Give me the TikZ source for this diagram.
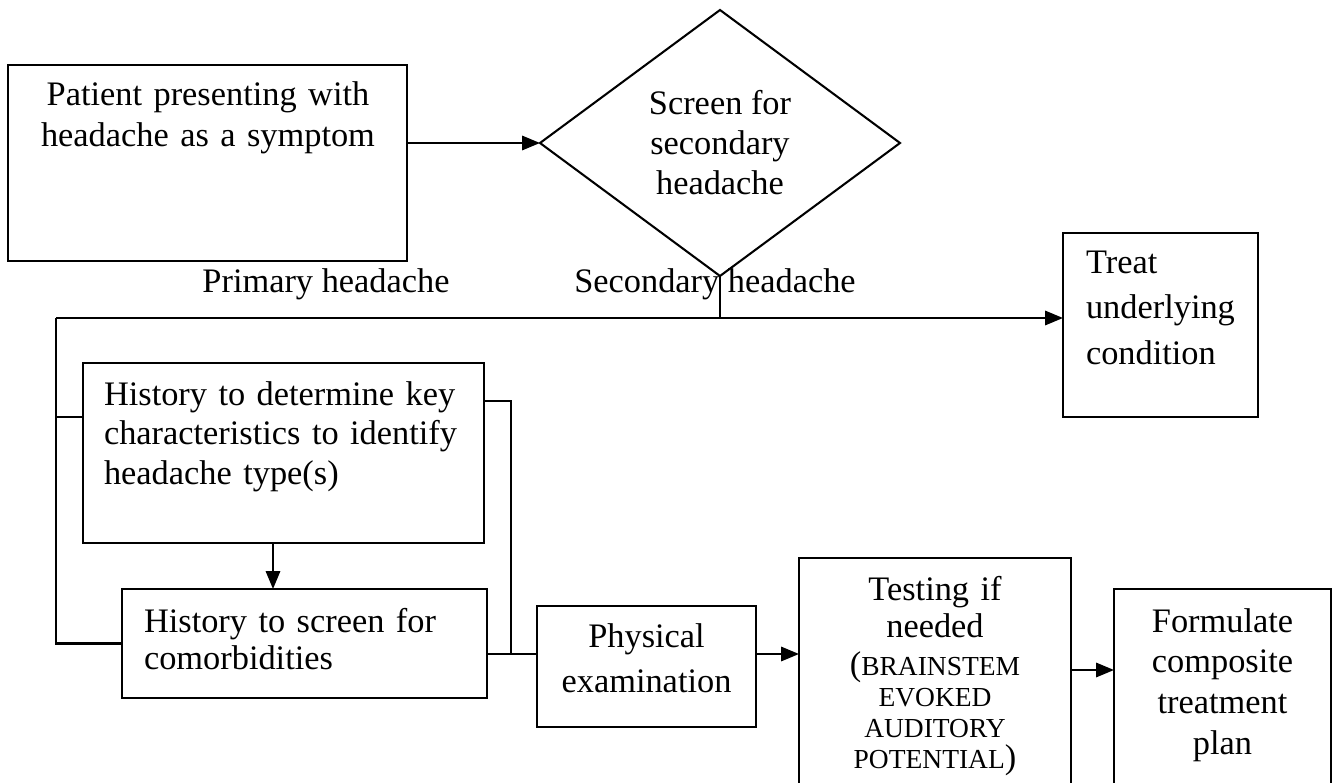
\documentclass[tikz,border=0pt]{standalone}
\usepackage{fontspec}
\setmainfont{Liberation Serif}
\usetikzlibrary{shapes.geometric,arrows.meta}
\newcommand{\px}{0.3638pt}
\newcommand{\lrgparen}[1]{\smash{\fontsize{12.5}{12}\selectfont#1}}
\begin{document}
\begin{tikzpicture}[x=0.3638pt,y=-0.3638pt,line width=0.75pt,
  box/.style 2 args={draw,minimum width=#1*\px,minimum height=#2*\px,inner sep=0pt,outer sep=0pt},
  txt/.style={inner sep=0pt,text width=140pt,font=\fontsize{12.5}{#1}\selectfont},
  lbl/.style={inner sep=0pt,font=\fontsize{12.5}{15}\selectfont},
  arr/.style={-{Triangle[length=6.5pt,width=5.2pt]}}]
\useasboundingbox (0,0) rectangle (1336,783);
\clip (0,0) rectangle (1336,783);
% boxes
\node[box={399}{196}] (patient) at (207.5,163) {};
\node[draw,diamond,minimum width=360*\px,minimum height=266*\px,inner sep=0pt,outer sep=0pt,align=center,font=\fontsize{12.5}{14.55}\selectfont] (screen) at (720,143) {Screen for\\secondary\\headache};
\node[box={195}{184}] (treat) at (1160.5,325) {};
\node[box={401}{180}] (hist1) at (283.5,453) {};
\node[box={365}{109}] (hist2) at (304.5,643.5) {};
\node[box={219}{121}] (phys) at (646.5,666.5) {};
\node[box={272}{260}] (test) at (935,688) {};
\node[box={217}{229}] (form) at (1222.5,703.5) {};
% texts
\node[txt=14.9pt,align=center,anchor=base] (patienttxt) at (208,106) {Patient presenting with\\headache as a symptom};
\node[txt=16.7pt,text width=62pt,align=left,anchor=base west] (treattxt) at (1085,273) {Treat\\underlying\\condition};
\node[txt=14.4pt,align=left,anchor=base west] (hist1txt) at (103,405) {History to determine key\\characteristics to identify\\headache type(s)};
\node[txt=13.8pt,text width=120pt,align=left,anchor=base west] (hist2txt) at (143,632) {History to screen for\\comorbidities};
\node[txt=16.7pt,text width=70pt,align=center,anchor=base] (phystxt) at (646.5,647) {Physical\\examination};
\node[txt=13.5pt,text width=80pt,align=center,anchor=base] (testtxt) at (935,600) {Testing if\\needed};
\node[inner sep=0pt,text width=80pt,align=center,anchor=base,font=\fontsize{10}{11.3}\selectfont] (testnote) at (935,675) {\lrgparen{(}BRAINSTEM\\EVOKED\\AUDITORY\\POTENTIAL\lrgparen{)}};
\node[txt=14.9pt,text width=70pt,align=center,anchor=base] (formtxt) at (1222.5,632) {Formulate\\composite\\treatment\\plan};
\node[lbl,anchor=base] (primary) at (326,292) {Primary headache};
\node[lbl,anchor=base] (secondary) at (715,292) {Secondary headache};
% connectors
\coordinate (fork) at (720,318);
\coordinate (corner) at (56,318);
\coordinate (h1in) at (83,417);
\coordinate (h1out) at (484,401);
\coordinate (h1down) at (273,543);
\coordinate (merge) at (511,654);
\coordinate (t2f) at (1071,670);
\draw[arr] (screen.west -| patient.east) -- (screen.west);
\draw (screen.south) -- (fork);
\draw[arr] (corner) -- (corner -| treat.west);
\draw (corner) |- (hist2.west);
\draw (corner |- h1in) -- (h1in);
\draw[arr] (h1down) -- (h1down |- hist2.north);
\draw (h1out) -| (merge);
\draw (hist2.east |- merge) -- (phys.west |- merge);
\draw[arr] (phys.east |- merge) -- (test.west |- merge);
\draw[arr] (t2f) -- (t2f -| form.west);
\end{tikzpicture}
\end{document}
